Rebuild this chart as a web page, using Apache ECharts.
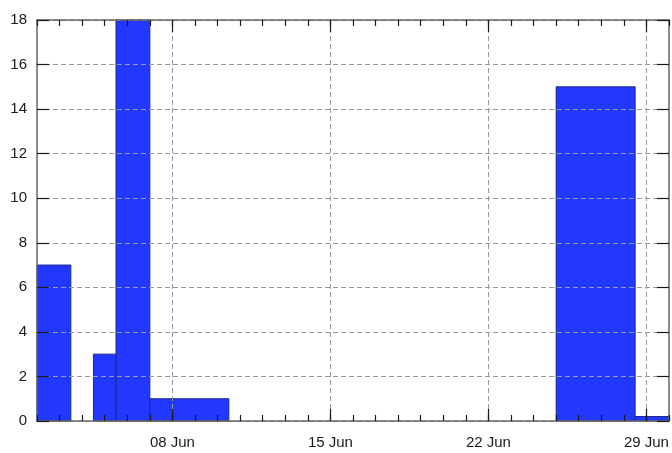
<!DOCTYPE html>
<html>
<head>
<meta charset="utf-8">
<script src="https://cdn.jsdelivr.net/npm/echarts@6/dist/echarts.min.js"></script>
<style>html,body{margin:0;padding:0;background:#fff}#c{width:672px;height:453px}</style>
</head>
<body>
<div id="c"></div>
<script>
// Bins: start and end in days of June (fractional), and counts
var binStart = [2, 4.5, 5.5, 7, 25, 28.5];
var binEnd   = [3.5, 5.5, 7, 10.5, 28.5, 30];
var counts   = [7, 3, 18, 1, 15, 0.2];
var xTickValues = [8, 15, 22, 29];
var xTickLabels = ['08 Jun', '15 Jun', '22 Jun', '29 Jun'];

var data = binStart.map(function (s, i) { return [s, binEnd[i], counts[i]]; });
var labelMap = {};
xTickValues.forEach(function (v, i) { labelMap[v] = xTickLabels[i]; });

var font = 'Liberation Sans, Arial, sans-serif';
var axisColor = '#666';
var tickColor = '#1a1a1a';
var gridLine = { show: true, lineStyle: { color: '#999', type: [5, 3], width: 1 } };

var chart = echarts.init(document.getElementById('c'), null, { renderer: 'canvas' });
chart.setOption({
  animation: false,
  grid: { left: 37, top: 20, width: 632, height: 401, containLabel: false },
  xAxis: [
    { // bottom major
      type: 'value', min: 2, max: 30, position: 'bottom', z: 10,
      axisLine: { show: true, onZero: false, lineStyle: { color: axisColor, width: 1.5 } },
      axisTick: { show: true, inside: true, length: 12, customValues: xTickValues, lineStyle: { color: tickColor, width: 1.2 } },
      axisLabel: { show: true, customValues: xTickValues, margin: 14, fontSize: 15, fontFamily: font, color: '#1a1a1a',
        formatter: function (v) { return labelMap[v] || ''; } },
      splitLine: gridLine
    },
    { // bottom minor
      type: 'value', min: 2, max: 30, interval: 1, position: 'bottom', z: 10,
      axisLine: { show: false, onZero: false }, axisLabel: { show: false }, splitLine: { show: false },
      axisTick: { show: true, inside: true, length: 6, lineStyle: { color: tickColor, width: 1.2 } }
    },
    { // top major
      type: 'value', min: 2, max: 30, position: 'top', z: 10,
      axisLine: { show: true, onZero: false, lineStyle: { color: axisColor, width: 1.5 } },
      axisTick: { show: true, inside: true, length: 12, customValues: xTickValues, lineStyle: { color: tickColor, width: 1.2 } },
      axisLabel: { show: false }, splitLine: { show: false }
    },
    { // top minor
      type: 'value', min: 2, max: 30, interval: 1, position: 'top', z: 10,
      axisLine: { show: false, onZero: false }, axisLabel: { show: false }, splitLine: { show: false },
      axisTick: { show: true, inside: true, length: 6, lineStyle: { color: tickColor, width: 1.2 } }
    }
  ],
  yAxis: [
    {
      type: 'value', min: 0, max: 18, interval: 2, position: 'left', z: 10,
      axisLine: { show: true, onZero: false, lineStyle: { color: axisColor, width: 1.5 } },
      axisTick: { show: true, inside: true, length: 12, lineStyle: { color: tickColor, width: 1.2 } },
      axisLabel: { show: true, margin: 10, fontSize: 15, fontFamily: font, color: '#1a1a1a' },
      splitLine: gridLine
    },
    {
      type: 'value', min: 0, max: 18, interval: 2, position: 'right', z: 10,
      axisLine: { show: true, onZero: false, lineStyle: { color: axisColor, width: 1.5 } },
      axisTick: { show: true, inside: true, length: 12, lineStyle: { color: tickColor, width: 1.2 } },
      axisLabel: { show: false }, splitLine: { show: false }
    }
  ],
  series: [{
    type: 'custom',
    xAxisIndex: 0, yAxisIndex: 0,
    data: data,
    encode: { x: [0, 1], y: 2 },
    renderItem: function (params, api) {
      var p0 = api.coord([api.value(0), 0]);
      var p1 = api.coord([api.value(1), api.value(2)]);
      return {
        type: 'rect',
        shape: { x: p0[0], y: p1[1], width: p1[0] - p0[0], height: p0[1] - p1[1] },
        style: { fill: '#2338ff', stroke: '#1c2a8c', lineWidth: 1 }
      };
    }
  }]
});
</script>
</body>
</html>
